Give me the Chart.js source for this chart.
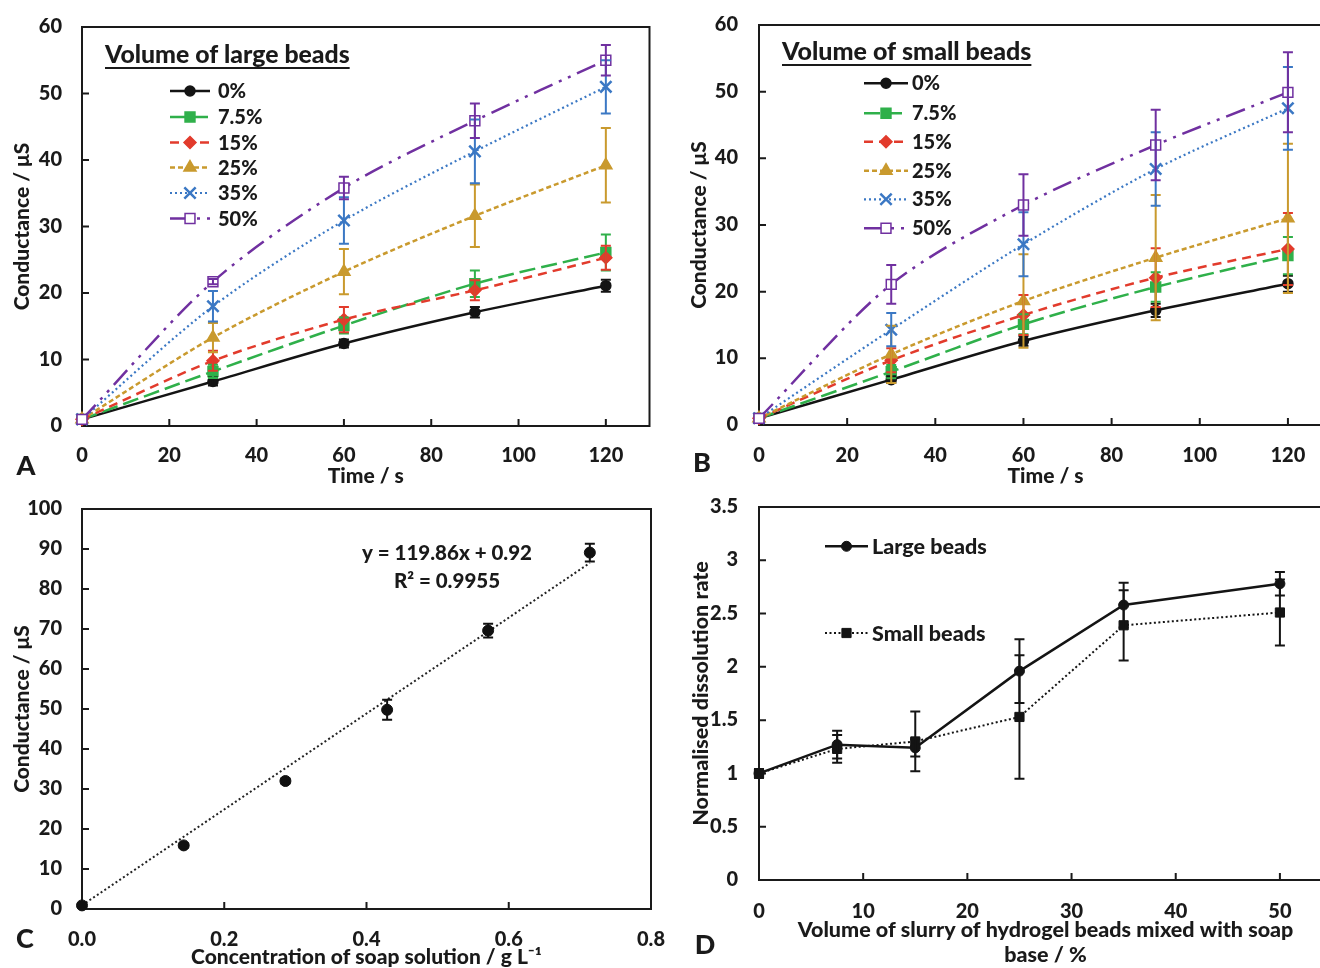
<!DOCTYPE html>
<html>
<head>
<meta charset="utf-8">
<script src="https://cdn.jsdelivr.net/npm/chart.js@4.4.0/dist/chart.umd.min.js"></script>
<style>
  html, body { margin: 0; padding: 0; background: #fff; width: 1320px; height: 968px; overflow: hidden; position: relative; }
  canvas { position: absolute; }
</style>
</head>
<body>
<canvas id="panelA" width="660" height="500" style="left:0;top:0;width:660px;height:500px"></canvas>
<canvas id="panelB" width="700" height="500" style="left:660px;top:0;width:700px;height:500px"></canvas>
<canvas id="panelC" width="680" height="500" style="left:0;top:484px;width:680px;height:500px"></canvas>
<canvas id="panelD" width="700" height="500" style="left:660px;top:484px;width:700px;height:500px"></canvas>
<script>
// ---- Conductance over time (panels A and B) ----
const timeSeconds = [0, 30, 60, 90, 120];
const beadVolumes = ['0%', '7.5%', '15%', '25%', '35%', '50%'];

// large beads: mean conductance (µS), one row per bead volume
const largeMeans = [
  [1.0, 6.7, 12.4, 17.1, 21.1],
  [1.0, 8.2, 15.1, 21.4, 26.1],
  [1.0, 9.8, 16.0, 20.4, 25.3],
  [1.0, 13.3, 23.2, 31.6, 39.2],
  [1.0, 18.0, 30.9, 41.3, 51.0],
  [1.0, 21.7, 35.8, 45.9, 55.0]
];
const largeErrors = [
  [0, 0.6, 0.6, 0.8, 0.9],
  [0, 1.0, 1.2, 2.0, 2.7],
  [0, 1.5, 1.9, 1.5, 1.8],
  [0, 2.2, 3.4, 4.7, 5.6],
  [0, 2.3, 3.5, 4.8, 4.0],
  [0, 0.4, 1.7, 2.6, 2.3]
];

// small beads: mean conductance (µS)
const smallMeans = [
  [1.0, 6.8, 12.6, 17.2, 21.2],
  [1.0, 8.0, 15.1, 20.7, 25.4],
  [1.0, 9.7, 16.5, 22.1, 26.4],
  [1.0, 10.6, 18.6, 25.1, 31.0],
  [1.0, 14.3, 27.1, 38.4, 47.5],
  [1.0, 21.1, 33.0, 42.0, 49.9]
];
const smallErrors = [
  [0, 0.5, 0.7, 1.0, 1.2],
  [0, 1.0, 1.5, 2.2, 2.8],
  [0, 1.8, 3.0, 4.4, 5.4],
  [0, 4.3, 7.0, 9.4, 11.2],
  [0, 2.5, 4.8, 5.5, 6.2],
  [0, 2.9, 4.6, 5.3, 6.0]
];

// ---- Calibration (panel C) ----
const soapConcentration = [0, 0.143, 0.286, 0.429, 0.571, 0.714];
const soapConductance = [0.9, 15.9, 32.0, 49.8, 69.6, 89.1];
const soapConductanceError = [0, 0.5, 0.6, 2.5, 1.7, 2.2];
const fitSlope = 119.86;
const fitIntercept = 0.92;
const fitR2 = '0.9955';

// ---- Normalised dissolution rate (panel D) ----
const slurryVolume = [0, 7.5, 15, 25, 35, 50];
const largeRate = [1.0, 1.27, 1.24, 1.96, 2.58, 2.78];
const largeRateError = [0.04, 0.13, 0.08, 0.30, 0.21, 0.11];
const smallRate = [1.0, 1.23, 1.30, 1.53, 2.39, 2.51];
const smallRateError = [0.04, 0.13, 0.28, 0.58, 0.33, 0.31];

// ---- styles ----
const INK = '#1a1a1a';
const FONT = "'Lato Heavy', Lato";
const WEIGHT = 'normal';
const seriesStyles = [
  { color: '#141414', dash: [],                  point: 'circle',   radius: 5, fill: '#141414', width: 2.5 },
  { color: '#2fb04a', dash: [16, 6],             point: 'rect',     radius: 7, fill: '#2fb04a', width: 2.5 },
  { color: '#e23b2c', dash: [9, 6],              point: 'rectRot',  radius: 6, fill: '#e23b2c', width: 2.5 },
  { color: '#c99a2e', dash: [5, 3],              point: 'triangle', radius: 7, fill: '#c99a2e', width: 2.5 },
  { color: '#3b78c4', dash: [2, 3],              point: 'crossRot', radius: 8, fill: '#3b78c4', width: 2.2 },
  { color: '#7030a0', dash: [20, 7, 3, 7, 3, 7], point: 'rect',     radius: 7, fill: '#ffffff', width: 2.5 }
];

function xy(xs, ys) { return xs.map((x, i) => ({ x: x, y: ys[i] })); }

function timeDatasets(means, errors) {
  return beadVolumes.map((label, k) => {
    const s = seriesStyles[k];
    return {
      label: label,
      data: xy(timeSeconds, means[k]),
      errors: errors[k],
      borderColor: s.color,
      borderWidth: s.width,
      borderDash: s.dash,
      tension: 0.3,
      pointStyle: s.point,
      pointRadius: s.radius,
      pointBackgroundColor: s.fill,
      pointBorderColor: s.color,
      pointBorderWidth: k === 4 ? 2.5 : 1.5,
      clip: false,
      order: 6 - k
    };
  });
}

function fontString(size) { return WEIGHT + ' ' + size + 'px ' + FONT; }

// ---- plugins ----
function drawMarker(ctx, style, x, y, r, fill, stroke, lw) {
  ctx.save();
  ctx.setLineDash([]);
  ctx.fillStyle = fill; ctx.strokeStyle = stroke; ctx.lineWidth = lw;
  ctx.beginPath();
  if (style === 'circle') {
    ctx.arc(x, y, r, 0, Math.PI * 2);
  } else if (style === 'rect') {
    const s = r * Math.SQRT1_2;
    ctx.rect(x - s, y - s, 2 * s, 2 * s);
  } else if (style === 'rectRot') {
    ctx.moveTo(x, y - r); ctx.lineTo(x + r, y); ctx.lineTo(x, y + r); ctx.lineTo(x - r, y); ctx.closePath();
  } else if (style === 'triangle') {
    let a = 0;
    ctx.moveTo(x + Math.sin(a) * r, y - Math.cos(a) * r);
    a += Math.PI * 2 / 3; ctx.lineTo(x + Math.sin(a) * r, y - Math.cos(a) * r);
    a += Math.PI * 2 / 3; ctx.lineTo(x + Math.sin(a) * r, y - Math.cos(a) * r);
    ctx.closePath();
  } else if (style === 'crossRot') {
    const s = r * Math.SQRT1_2;
    ctx.moveTo(x - s, y - s); ctx.lineTo(x + s, y + s);
    ctx.moveTo(x + s, y - s); ctx.lineTo(x - s, y + s);
  }
  if (style !== 'crossRot') ctx.fill();
  ctx.stroke();
  ctx.restore();
}

// plot box with inward tick marks
const framePlugin = {
  id: 'frame',
  beforeDatasetsDraw(chart) {
    const { ctx, chartArea: a, scales: { x, y } } = chart;
    ctx.save();
    ctx.strokeStyle = INK; ctx.lineWidth = 2; ctx.setLineDash([]);
    ctx.strokeRect(a.left, a.top, a.right - a.left, a.bottom - a.top);
    ctx.beginPath();
    x.ticks.forEach(t => { const p = x.getPixelForValue(t.value); ctx.moveTo(p, a.bottom); ctx.lineTo(p, a.bottom - 7); });
    y.ticks.forEach(t => { const p = y.getPixelForValue(t.value); ctx.moveTo(a.left, p); ctx.lineTo(a.left + 7, p); });
    ctx.stroke();
    ctx.restore();
  }
};

// vertical error bars with caps, read from dataset.errors
const errorBarPlugin = {
  id: 'errorBars',
  afterDatasetsDraw(chart, args, opts) {
    const { ctx, scales: { y } } = chart;
    const cap = opts.cap || 5;
    chart.data.datasets.forEach((ds, i) => {
      if (!ds.errors) return;
      const meta = chart.getDatasetMeta(i);
      ctx.save();
      ctx.setLineDash([]);
      ctx.strokeStyle = ds.errorColor || ds.borderColor;
      ctx.lineWidth = opts.width || 2;
      meta.data.forEach((pt, j) => {
        const e = ds.errors[j];
        if (!e) return;
        const v = ds.data[j].y;
        const top = y.getPixelForValue(v + e), bot = y.getPixelForValue(v - e);
        ctx.beginPath();
        ctx.moveTo(pt.x, top); ctx.lineTo(pt.x, bot);
        ctx.moveTo(pt.x - cap, top); ctx.lineTo(pt.x + cap, top);
        ctx.moveTo(pt.x - cap, bot); ctx.lineTo(pt.x + cap, bot);
        ctx.stroke();
      });
      ctx.restore();
    });
  }
};

// in-plot legend: optional underlined heading, then one row per dataset
const legendPlugin = {
  id: 'boxLegend',
  afterDraw(chart, args, o) {
    if (!o || !o.rows) return;
    const ctx = chart.ctx;
    ctx.save();
    ctx.fillStyle = INK;
    if (o.title) {
      ctx.font = fontString(o.titleSize);
      ctx.textAlign = 'left'; ctx.textBaseline = 'alphabetic';
      ctx.fillText(o.title, o.titleX, o.titleY);
      const w = ctx.measureText(o.title).width;
      ctx.strokeStyle = INK; ctx.lineWidth = 1.8; ctx.setLineDash([]);
      ctx.beginPath(); ctx.moveTo(o.titleX, o.titleY + 5); ctx.lineTo(o.titleX + w, o.titleY + 5); ctx.stroke();
    }
    chart.data.datasets.forEach((ds, i) => {
      const yRow = o.rows[i];
      ctx.save();
      ctx.strokeStyle = ds.borderColor; ctx.lineWidth = ds.borderWidth;
      ctx.setLineDash(ds.borderDash || []);
      ctx.beginPath(); ctx.moveTo(o.lineX1, yRow); ctx.lineTo(o.lineX2, yRow); ctx.stroke();
      ctx.restore();
      drawMarker(ctx, ds.pointStyle, (o.lineX1 + o.lineX2) / 2, yRow, ds.pointRadius,
        ds.pointBackgroundColor, ds.pointBorderColor, ds.pointBorderWidth);
      ctx.fillStyle = INK;
      ctx.font = fontString(o.size);
      ctx.textAlign = 'left'; ctx.textBaseline = 'middle';
      ctx.fillText(ds.label, o.textX, yRow + 1);
    });
    ctx.restore();
  }
};

// free text: panel letters, fit equation
const notesPlugin = {
  id: 'notes',
  afterDraw(chart, args, o) {
    if (!o || !o.items) return;
    const ctx = chart.ctx;
    ctx.save();
    ctx.fillStyle = INK;
    o.items.forEach(it => {
      ctx.font = fontString(it.size);
      ctx.textAlign = it.align || 'center';
      ctx.textBaseline = 'middle';
      ctx.fillText(it.text, it.x, it.y);
    });
    ctx.restore();
  }
};

Chart.register(framePlugin, errorBarPlugin, legendPlugin, notesPlugin);
Chart.defaults.font.family = FONT;
Chart.defaults.color = INK;

function clearEdgePadding(s) {
  s.paddingTop = 0; s.paddingBottom = 0; s.paddingLeft = 0; s.paddingRight = 0;
}

function scales(cfg) {
  const tickFont = { family: FONT, weight: WEIGHT, size: 20 };
  return {
    x: {
      type: 'linear', min: cfg.xMin, max: cfg.xMax,
      ticks: { stepSize: cfg.xStep, includeBounds: false, padding: cfg.xPad, font: tickFont, color: INK,
               maxRotation: 0, autoSkip: false, callback: cfg.xFmt || (v => String(v)) },
      grid: { display: false, drawTicks: false },
      border: { display: false },
      title: { display: true, text: cfg.xTitle, color: INK,
               font: { family: FONT, weight: WEIGHT, size: cfg.xTitleSize || 21, lineHeight: cfg.xTitleLH || 1.2 },
               padding: { top: 0, bottom: cfg.xTitlePad } },
      afterFit: s => { s.height = cfg.xHeight; clearEdgePadding(s); }
    },
    y: {
      type: 'linear', min: cfg.yMin, max: cfg.yMax,
      ticks: { stepSize: cfg.yStep, includeBounds: false, padding: cfg.yPad, font: tickFont, color: INK,
               autoSkip: false, callback: cfg.yFmt || (v => String(v)) },
      grid: { display: false, drawTicks: false },
      border: { display: false },
      title: { display: true, text: cfg.yTitle, color: INK,
               font: { family: FONT, weight: WEIGHT, size: cfg.yTitleSize || 21 },
               padding: { top: cfg.yTitlePad, bottom: 0 } },
      afterFit: s => { s.width = cfg.yWidth; clearEdgePadding(s); }
    }
  };
}

const baseOptions = {
  responsive: false,
  animation: false,
  events: [],
  plugins: { legend: { display: false }, tooltip: { enabled: false } }
};

// Panel A
new Chart(document.getElementById('panelA'), {
  type: 'line',
  data: { datasets: timeDatasets(largeMeans, largeErrors) },
  options: Object.assign({}, baseOptions, {
    layout: { padding: { left: 0, top: 27, right: 9, bottom: 0 } },
    scales: scales({ xMin: 0, xMax: 130, xStep: 20, xPad: 17.5, xTitle: 'Time / s', xTitlePad: 10.4, xHeight: 74,
                     yMin: 0, yMax: 60, yStep: 10, yPad: 20, yTitle: 'Conductance / μS', yTitlePad: 10.4, yWidth: 82 }),
    plugins: Object.assign({}, baseOptions.plugins, {
      errorBars: { cap: 5, width: 2 },
      boxLegend: { title: 'Volume of large beads', titleSize: 24.8, titleX: 105, titleY: 63,
                   lineX1: 170, lineX2: 210, textX: 218, size: 20, rows: [91, 117, 142.5, 167.5, 193, 218.5] },
      notes: { items: [{ text: 'A', x: 26, y: 467, size: 27 }] }
    })
  })
});

// Panel B
new Chart(document.getElementById('panelB'), {
  type: 'line',
  data: { datasets: timeDatasets(smallMeans, smallErrors) },
  options: Object.assign({}, baseOptions, {
    layout: { padding: { left: 0, top: 25, right: 28, bottom: 0 } },
    scales: scales({ xMin: 0, xMax: 130, xStep: 20, xPad: 18.5, xTitle: 'Time / s', xTitlePad: 10.4, xHeight: 75,
                     yMin: 0, yMax: 60, yStep: 10, yPad: 21, yTitle: 'Conductance / μS', yTitlePad: 27.4, yWidth: 99 }),
    plugins: Object.assign({}, baseOptions.plugins, {
      errorBars: { cap: 5, width: 2 },
      boxLegend: { title: 'Volume of small beads', titleSize: 25, titleX: 122, titleY: 60,
                   lineX1: 204, lineX2: 248, textX: 252, size: 20, rows: [83.3, 113.3, 141.7, 170.7, 199.3, 228.3] },
      notes: { items: [{ text: 'B', x: 42, y: 464, size: 27 }] }
    })
  })
});

// Panel C
const fitEnds = [soapConcentration[0], soapConcentration[soapConcentration.length - 1]];
new Chart(document.getElementById('panelC'), {
  type: 'line',
  data: {
    datasets: [
      {
        label: 'Calibration',
        data: xy(soapConcentration, soapConductance),
        errors: soapConductanceError,
        showLine: false,
        pointStyle: 'circle', pointRadius: 5.5,
        pointBackgroundColor: '#111', pointBorderColor: '#111', pointBorderWidth: 1,
        borderColor: '#111', clip: false, order: 1
      },
      {
        label: 'Linear fit',
        data: fitEnds.map(x => ({ x: x, y: fitSlope * x + fitIntercept })),
        borderColor: '#222', borderWidth: 2, borderDash: [2, 2.5],
        pointRadius: 0, clip: false, order: 2
      }
    ]
  },
  options: Object.assign({}, baseOptions, {
    layout: { padding: { left: 0, top: 25, right: 29, bottom: 0 } },
    scales: scales({ xMin: 0, xMax: 0.8, xStep: 0.2, xPad: 18.5, xFmt: v => v.toFixed(1),
                     xTitle: 'Concentration of soap solution / g L⁻¹', xTitlePad: 13.4, xHeight: 75,
                     yMin: 0, yMax: 100, yStep: 10, yPad: 20, yTitle: 'Conductance / μS', yTitlePad: 10.4, yWidth: 82 }),
    plugins: Object.assign({}, baseOptions.plugins, {
      errorBars: { cap: 5, width: 2 },
      notes: { items: [
        { text: 'y = ' + fitSlope + 'x + ' + fitIntercept, x: 447, y: 70, size: 20.5 },
        { text: 'R² = ' + fitR2, x: 447, y: 98, size: 20.5 },
        { text: 'C', x: 25, y: 456, size: 27 }
      ] }
    })
  })
});

// Panel D
new Chart(document.getElementById('panelD'), {
  type: 'line',
  data: {
    datasets: [
      {
        label: 'Large beads',
        data: xy(slurryVolume, largeRate),
        errors: largeRateError,
        borderColor: '#141414', borderWidth: 2.5, borderDash: [], tension: 0,
        pointStyle: 'circle', pointRadius: 5,
        pointBackgroundColor: '#141414', pointBorderColor: '#141414', pointBorderWidth: 1,
        clip: false, order: 1
      },
      {
        label: 'Small beads',
        data: xy(slurryVolume, smallRate),
        errors: smallRateError,
        borderColor: '#141414', borderWidth: 2, borderDash: [2, 2.5], tension: 0,
        pointStyle: 'rect', pointRadius: 6.5,
        pointBackgroundColor: '#141414', pointBorderColor: '#141414', pointBorderWidth: 1,
        clip: false, order: 2
      }
    ]
  },
  options: Object.assign({}, baseOptions, {
    layout: { padding: { left: 0, top: 23, right: 28, bottom: 0 } },
    scales: scales({ xMin: 0, xMax: 55, xStep: 10, xPad: 19.5,
                     xTitle: ['Volume of slurry of hydrogel beads mixed with soap', 'base / %'],
                     xTitleSize: 21.5, xTitleLH: 1.163, xTitlePad: 15.8, xHeight: 104,
                     yMin: 0, yMax: 3.5, yStep: 0.5, yPad: 21, yFmt: v => String(Math.round(v * 100) / 100),
                     yTitle: 'Normalised dissolution rate', yTitleSize: 21.5, yTitlePad: 29, yWidth: 99 }),
    plugins: Object.assign({}, baseOptions.plugins, {
      errorBars: { cap: 5, width: 2 },
      boxLegend: { lineX1: 165, lineX2: 208, textX: 212, size: 21.5, rows: [62.3, 149] },
      notes: { items: [{ text: 'D', x: 45, y: 462, size: 27 }] }
    })
  })
});
</script>
</body>
</html>
